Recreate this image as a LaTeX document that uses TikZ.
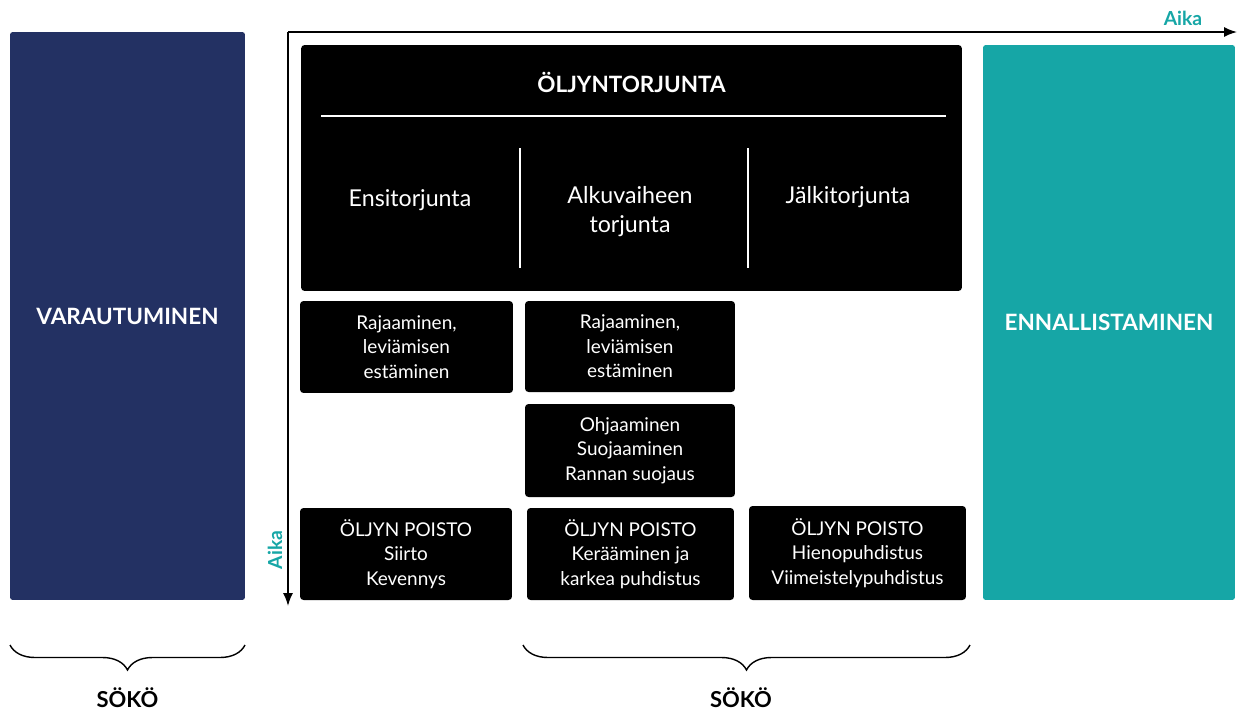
\documentclass[tikz,border=0pt]{standalone}
\usepackage{fontspec}
\setmainfont{Lato}
\usetikzlibrary{arrows.meta,positioning,decorations.pathreplacing}
\definecolor{navy}{HTML}{233163}
\definecolor{teal}{HTML}{16A6A6}

\begin{document}
\begin{tikzpicture}[x=0.02cm,y=-0.02cm,font=\fontsize{10.8}{13.9}\selectfont,
    >={Latex[length=2.6mm,width=2mm]},
    blk/.style={fill=black,rounded corners=2pt,text=white,align=center,inner sep=0pt},
    side/.style={rounded corners=1.5pt,text=white,align=center,inner sep=0pt,
                 font=\fontsize{12.8}{15}\selectfont\bfseries},
    phase/.style={text=white,align=center,font=\fontsize{13.2}{16.5}\selectfont},
    brc/.style={decorate,decoration={brace,mirror,amplitude=0.5cm},line width=0.8pt}]
  \useasboundingbox (0,0) rectangle (1238,711);
  % side columns
  \node[side,fill=navy,minimum width=4.7cm,minimum height=11.36cm] (var) at (127.5,316) {VARAUTUMINEN};
  \node[side,fill=teal,minimum width=5.04cm,minimum height=11.1cm] (enn) at (1109,322.5) {ENNALLISTAMINEN};
  % time axes
  \coordinate (orig) at (288,32);
  \coordinate (tend) at (1237,32);
  \coordinate (vend) at (288,606);
  \draw[->,line width=0.9pt] (orig) -- (tend);
  \draw[->,line width=0.9pt] (orig) -- (vend);
  \node[text=teal,font=\fontsize{11}{13}\selectfont\bfseries] (aikah) at (1183,18) {Aika};
  \node[text=teal,font=\fontsize{11}{13}\selectfont\bfseries,rotate=90] (aikav) at (275,550) {Aika};
  % main block
  \node[blk,minimum width=13.22cm,minimum height=4.92cm] (oljy) at (631.5,168) {};
  \node[text=white,font=\fontsize{12.8}{15}\selectfont\bfseries] (otitle) at (631.5,82) {ÖLJYNTORJUNTA};
  \coordinate (hl) at (321,116);
  \coordinate (hr) at (946,116);
  \draw[white,line width=0.7pt] (hl) -- (hr);
  \coordinate (d1t) at (520,148);
  \coordinate (d1b) at (520,268);
  \coordinate (d2t) at (748,148);
  \coordinate (d2b) at (748,268);
  \draw[white,line width=0.7pt] (d1t) -- (d1b);
  \draw[white,line width=0.7pt] (d2t) -- (d2b);
  \node[phase] (ensi) at (410,200) {Ensitorjunta};
  \node[phase] (alku) at (630,212) {Alkuvaiheen\\torjunta};
  \node[phase] (jalki) at (848,197) {Jälkitorjunta};
  % measures
  \node[blk,minimum width=4.26cm,minimum height=1.84cm] (raja1) at (406.5,347) {Rajaaminen,\\leviämisen\\estäminen};
  \node[blk,minimum width=4.2cm,minimum height=1.82cm] (raja2) at (630,346.5) {Rajaaminen,\\leviämisen\\estäminen};
  \node[blk,minimum width=4.2cm,minimum height=1.86cm] (ohj) at (630,450.5) {Ohjaaminen\\Suojaaminen\\Rannan suojaus};
  \node[blk,minimum width=4.24cm,minimum height=1.84cm] (pois1) at (406,554) {ÖLJYN POISTO\\Siirto\\Kevennys};
  \node[blk,minimum width=4.14cm,minimum height=1.84cm] (pois2) at (630.5,554) {ÖLJYN POISTO\\Kerääminen ja\\karkea puhdistus};
  \node[blk,minimum width=4.34cm,minimum height=1.88cm] (pois3) at (857.5,553) {ÖLJYN POISTO\\Hienopuhdistus\\Viimeistelypuhdistus};
  % braces
  \coordinate (b1l) at (10,645);
  \coordinate (b1r) at (245,645);
  \coordinate (b2l) at (523,645);
  \coordinate (b2r) at (970,645);
  \draw[brc] (b1l) -- (b1r);
  \draw[brc] (b2l) -- (b2r);
  \node[font=\fontsize{12.5}{14}\selectfont\bfseries,inner sep=1pt] (soko1) at (127.5,698) {SÖKÖ};
  \node[font=\fontsize{12.5}{14}\selectfont\bfseries,inner sep=1pt] (soko2) at (741,698) {SÖKÖ};
\end{tikzpicture}
\end{document}
